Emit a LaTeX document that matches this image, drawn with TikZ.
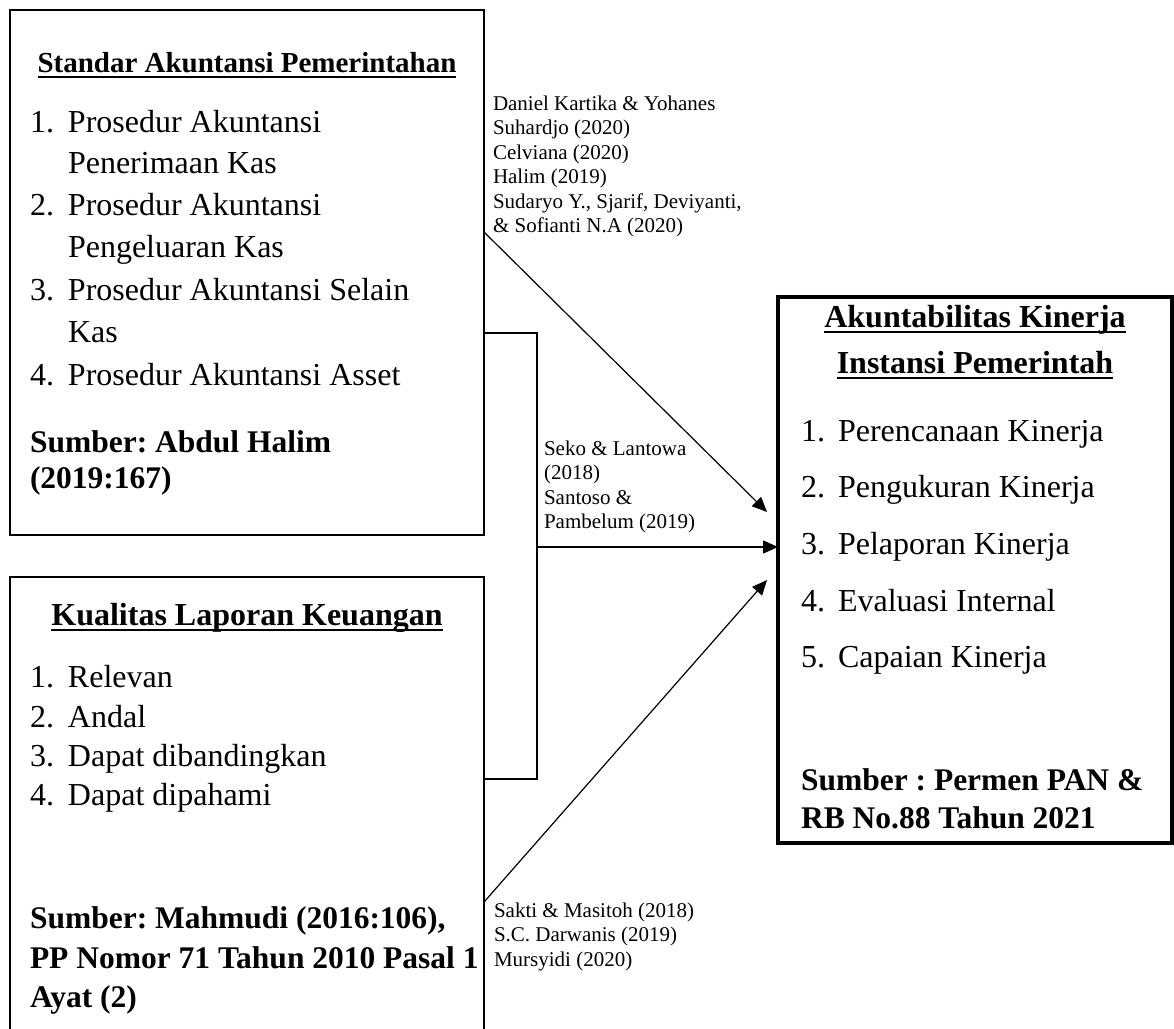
\documentclass[tikz,border=0pt]{standalone}
\usepackage{fontspec}
\setmainfont{Liberation Serif}
\usetikzlibrary{arrows.meta}
\newcommand\numi[3][38pt]{\makebox[#1][l]{#2}#3}
\begin{document}
\frenchspacing
\begin{tikzpicture}[x=1pt,y=-1pt,
  every node/.style={inner sep=0pt, outer sep=0pt},
  boxthin/.style={draw, line width=2pt},
  boxthick/.style={draw, line width=3.5pt},
  hd/.style={font=\bfseries\fontsize{32}{38}\selectfont, anchor=base},
  itm/.style={font=\fontsize{32}{42}\selectfont, anchor=base west},
  src/.style={font=\bfseries\fontsize{31.5}{38}\selectfont, anchor=base west},
  lab/.style={font=\fontsize{21}{24.5}\selectfont, anchor=base west},
  uline/.style={line width=2pt},
  conn/.style={line width=1.2pt},
  arr/.style={line width=1.2pt, -{Triangle[length=15pt,width=13pt]}}
]
\useasboundingbox (0,0) rectangle (1174,1028);
\clip (0,0) rectangle (1174,1028);

% boxes
\node[boxthin, minimum width=474pt, minimum height=525pt] (sap) at (247,272.5) {};
\node[boxthin, minimum width=474pt, minimum height=470pt] (klk) at (247,812) {};
\node[boxthick, minimum width=394pt, minimum height=546pt] (aki) at (975,570) {};

% box 1 text
\node[hd, font=\bfseries\fontsize{29}{34}\selectfont] (h1) at (247,72) {Standar Akuntansi Pemerintahan};
\draw[uline] ([yshift=-5pt]h1.base west) -- ([yshift=-5pt]h1.base east);
\node[itm] (a1) at (30,132) {\numi{1.}{Prosedur Akuntansi}};
\node[itm] (a1b) at (68,173) {Penerimaan Kas};
\node[itm] (a2) at (30,215) {\numi{2.}{Prosedur Akuntansi}};
\node[itm] (a2b) at (68,257) {Pengeluaran Kas};
\node[itm] (a3) at (30,300) {\numi{3.}{Prosedur Akuntansi Selain}};
\node[itm] (a3b) at (68,342) {Kas};
\node[itm] (a4) at (30,385) {\numi{4.}{Prosedur Akuntansi Asset}};
\node[src] (as1) at (30,452) {Sumber: Abdul Halim};
\node[src] (as2) at (30,488) {(2019:167)};

% box 2 text
\node[hd] (h2) at (247,625) {Kualitas Laporan Keuangan};
\draw[uline] ([yshift=-5pt]h2.base west) -- ([yshift=-5pt]h2.base east);
\node[itm] (k1) at (30,687) {\numi{1.}{Relevan}};
\node[itm] (k2) at (30,727) {\numi{2.}{Andal}};
\node[itm] (k3) at (30,766) {\numi{3.}{Dapat dibandingkan}};
\node[itm] (k4) at (30,805) {\numi{4.}{Dapat dipahami}};
\node[src] (ks1) at (30,928) {Sumber: Mahmudi (2016:106),};
\node[src] (ks2) at (30,968) {PP Nomor 71 Tahun 2010 Pasal 1};
\node[src] (ks3) at (30,1007) {Ayat (2)};

% box 3 text
\node[hd] (h3a) at (975,327) {Akuntabilitas Kinerja};
\draw[uline] ([yshift=-5pt]h3a.base west) -- ([yshift=-5pt]h3a.base east);
\node[hd] (h3b) at (975,373) {Instansi Pemerintah};
\draw[uline] ([yshift=-5pt]h3b.base west) -- ([yshift=-5pt]h3b.base east);
\node[itm] (p1) at (801,441) {\numi[37pt]{1.}{Perencanaan Kinerja}};
\node[itm] (p2) at (801,497) {\numi[37pt]{2.}{Pengukuran Kinerja}};
\node[itm] (p3) at (801,554) {\numi[37pt]{3.}{Pelaporan Kinerja}};
\node[itm] (p4) at (801,611) {\numi[37pt]{4.}{Evaluasi Internal}};
\node[itm] (p5) at (801,667) {\numi[37pt]{5.}{Capaian Kinerja}};
\node[src] (ps1) at (801,790) {Sumber : Permen PAN \&};
\node[src] (ps2) at (801,828) {RB No.88 Tahun 2021};

% connector labels
\node[lab] (l1a) at (493,110) {Daniel Kartika \& Yohanes};
\node[lab] (l1b) at (493,134.5) {Suhardjo (2020)};
\node[lab] (l1c) at (493,159) {Celviana (2020)};
\node[lab] (l1d) at (493,183.5) {Halim (2019)};
\node[lab] (l1e) at (493,208) {Sudaryo Y., Sjarif, Deviyanti,};
\node[lab] (l1f) at (493,232.5) {\& Sofianti N.A (2020)};
\node[lab] (l2a) at (544,455) {Seko \& Lantowa};
\node[lab] (l2b) at (544,479.5) {(2018)};
\node[lab] (l2c) at (544,504) {Santoso \&};
\node[lab] (l2d) at (544,528.5) {Pambelum (2019)};
\node[lab] (l3a) at (494,917) {Sakti \& Masitoh (2018)};
\node[lab] (l3b) at (494,941.5) {S.C. Darwanis (2019)};
\node[lab] (l3c) at (494,966) {Mursyidi (2020)};

% connector points
\coordinate (s1) at (484,232);
\coordinate (t1) at (767,512);
\coordinate (b1) at (537,333);
\coordinate (b2) at (537,779);
\coordinate (bm) at (537,547);
\coordinate (s3) at (484,902);
\coordinate (t3) at (767,580);

% connectors
\draw[arr] (s1) -- (t1);
\draw[conn] (sap.east |- b1) -- (b1) -- (b2) -- (klk.east |- b2);
\draw[arr] (bm) -- (aki.west |- bm);
\draw[arr] (s3) -- (t3);
\end{tikzpicture}
\end{document}
